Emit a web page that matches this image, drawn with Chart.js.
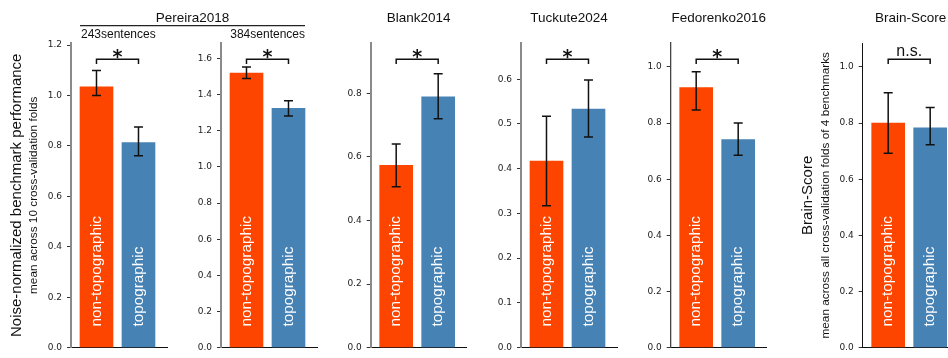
<!DOCTYPE html>
<html>
<head>
<meta charset="utf-8">
<script src="https://cdn.jsdelivr.net/npm/chart.js@4.4.1/dist/chart.umd.min.js"></script>
<style>
  html, body { margin: 0; padding: 0; background: #ffffff; }
  #stage { position: relative; width: 948px; height: 358px; overflow: hidden; background: #ffffff; }
  #stage canvas { position: absolute; left: 0; top: 0; }
</style>
</head>
<body>
<div id="stage"></div>
<script>
// Model variants compared on every benchmark
const categories = ['non-topographic', 'topographic'];

// One panel per benchmark (the first two are the two Pereira2018 subsets)
const benchmarks = ['Pereira2018', 'Pereira2018', 'Blank2014', 'Tuckute2024', 'Fedorenko2016', 'Brain-Score'];
const subsets = ['243sentences', '384sentences', '', '', '', ''];

// Mean score across cross-validation folds
const meanNonTopo = [1.034, 1.519, 0.573, 0.417, 0.926, 0.800];
const meanTopo    = [0.813, 1.324, 0.789, 0.533, 0.741, 0.783];

// Error bar extents
const lowNonTopo  = [1.000, 1.490, 0.506, 0.317, 0.846, 0.692];
const highNonTopo = [1.099, 1.553, 0.640, 0.517, 0.983, 0.908];
const lowTopo     = [0.761, 1.282, 0.720, 0.471, 0.685, 0.723];
const highTopo    = [0.875, 1.366, 0.861, 0.598, 0.800, 0.855];

// Significance marker above each pair of bars
const significance = ['*', '*', '*', '*', '*', 'n.s.'];

// Value axis range and tick spacing per panel
const yMax  = [1.208, 1.686, 0.958, 0.681, 1.085, 1.085];
const yStep = [0.2, 0.2, 0.2, 0.1, 0.2, 0.2];

// Axis titles (main line, smaller second line)
const yTitleMain = ['Noise-normalized benchmark performance', '', '', '', '', 'Brain-Score'];
const yTitleSub  = ['mean across 10 cross-validation folds', '', '', '', '', 'mean across all cross-validation folds of 4 benchmarks'];

// ---- layout and style ----
const CW = 980, CH = 358;
const AXW = 30;                 // reserved width for the value axis
const PLOT_W = 96;              // width of each plot area
const spineX = [71, 221, 370.7, 521, 670.7, 862.7];
const spineStyle = [
  { color: '#8a8a8a', width: 2 }, { color: '#8a8a8a', width: 2 },
  { color: '#8a8a8a', width: 2 }, { color: '#8a8a8a', width: 2 },
  { color: '#444444', width: 1.3 }, { color: '#111111', width: 1 }
];
const barColors = ['#fd4500', '#4682b4'];
const SANS = '"Liberation Sans", Arial, sans-serif';
const TICKFONT = '"DejaVu Sans", sans-serif';
const INK = '#111111';

const stage = document.getElementById('stage');
const charts = [];

function barsOf(chart) {
  return chart.getDatasetMeta(0).data;
}

// error bars, bracket with significance marker, labels inside bars
const annotate = {
  id: 'annotate',
  afterDatasetsDraw(chart) {
    const i = chart.options.panelIndex;
    const ctx = chart.ctx;
    const ys = chart.scales.y;
    const area = chart.chartArea;
    const bars = barsOf(chart);
    const lows = [lowNonTopo[i], lowTopo[i]];
    const highs = [highNonTopo[i], highTopo[i]];

    ctx.save();
    // labels inside bars
    ctx.fillStyle = '#ffffff';
    ctx.font = '15.3px ' + SANS;
    ctx.textAlign = 'left';
    ctx.textBaseline = 'middle';
    bars.forEach((b, k) => {
      ctx.save();
      ctx.translate(b.x, area.bottom - 21);
      ctx.rotate(-Math.PI / 2);
      ctx.fillText(categories[k], 0, 0);
      ctx.restore();
    });

    // error bars
    ctx.strokeStyle = INK;
    ctx.lineWidth = 1.5;
    bars.forEach((b, k) => {
      const yH = ys.getPixelForValue(highs[k]);
      const yL = ys.getPixelForValue(lows[k]);
      ctx.beginPath();
      ctx.moveTo(b.x, yH); ctx.lineTo(b.x, yL);
      ctx.moveTo(b.x - 4.5, yH); ctx.lineTo(b.x + 4.5, yH);
      ctx.moveTo(b.x - 4.5, yL); ctx.lineTo(b.x + 4.5, yL);
      ctx.stroke();
    });

    // bracket
    const x0 = bars[0].x, x1 = bars[1].x;
    const yTop = area.top + 16.3, yLeg = area.top + 21;
    ctx.beginPath();
    ctx.moveTo(x0, yLeg); ctx.lineTo(x0, yTop); ctx.lineTo(x1, yTop); ctx.lineTo(x1, yLeg);
    ctx.stroke();
    ctx.fillStyle = INK;
    ctx.textAlign = 'center';
    ctx.textBaseline = 'alphabetic';
    const mark = significance[i];
    if (mark === '*') {
      ctx.font = 'bold 19px ' + TICKFONT;
      ctx.fillText(mark, (x0 + x1) / 2, area.top + 19.5);
    } else {
      ctx.font = '16px ' + SANS;
      ctx.fillText(mark, (x0 + x1) / 2, area.top + 12.7);
    }
    ctx.restore();
  },
  afterDraw(chart) {
    const i = chart.options.panelIndex;
    const ctx = chart.ctx;
    const area = chart.chartArea;
    const midY = (area.top + area.bottom) / 2;
    ctx.save();
    ctx.fillStyle = INK;
    ctx.textBaseline = 'alphabetic';

    // axis titles
    if (yTitleMain[i]) {
      ctx.save();
      ctx.translate(area.left - 50.5, midY);
      ctx.rotate(-Math.PI / 2);
      ctx.textAlign = 'center';
      ctx.font = '15px ' + SANS;
      ctx.fillText(yTitleMain[i], 0, 0);
      ctx.restore();
      ctx.save();
      ctx.translate(area.left - 34, midY);
      ctx.rotate(-Math.PI / 2);
      ctx.textAlign = 'center';
      ctx.font = '11.8px ' + SANS;
      ctx.fillText(yTitleSub[i], 0, 0);
      ctx.restore();
    }

    // benchmark titles
    ctx.font = '13.5px ' + SANS;
    ctx.textAlign = 'center';
    if (i >= 2) {
      ctx.fillText(benchmarks[i], (area.left + area.right) / 2, 21.5);
    } else if (i === 1 && charts[0]) {
      // shared header for the two subsets of the same benchmark
      const leftBar = barsOf(charts[0])[0];
      const rightBar = barsOf(chart)[1];
      const lx = leftBar.x - leftBar.width / 2;
      const rx = rightBar.x + rightBar.width / 2;
      ctx.fillText(benchmarks[i], (lx + rx) / 2, 21.5);
      ctx.strokeStyle = '#222222';
      ctx.lineWidth = 1.3;
      ctx.beginPath();
      ctx.moveTo(lx, 25.7); ctx.lineTo(rx, 25.7);
      ctx.stroke();
      ctx.font = '12px ' + SANS;
      ctx.textAlign = 'left';
      ctx.fillText(subsets[0], lx + 1, 38);
      ctx.textAlign = 'right';
      ctx.fillText(subsets[1], rx, 38);
    }
    ctx.restore();
  }
};

function makePanel(i) {
  const canvas = document.createElement('canvas');
  canvas.width = CW; canvas.height = CH;
  canvas.style.width = CW + 'px'; canvas.style.height = CH + 'px';
  stage.appendChild(canvas);

  const values = [meanNonTopo[i], meanTopo[i]];
  const chart = new Chart(canvas, {
    type: 'bar',
    data: {
      datasets: [{
        data: values.map((v, k) => ({ x: k, y: v })),
        backgroundColor: barColors,
        borderWidth: 0,
        barThickness: 33
      }]
    },
    options: {
      panelIndex: i,
      responsive: false,
      animation: false,
      devicePixelRatio: 1,
      layout: {
        padding: {
          left: spineX[i] - AXW,
          right: CW - (spineX[i] + PLOT_W),
          top: 43,
          bottom: 4
        }
      },
      plugins: { legend: { display: false }, tooltip: { enabled: false }, title: { display: false } },
      scales: {
        x: {
          type: 'linear',
          min: -0.607,
          max: 1.679,
          offset: false,
          grid: { display: false },
          ticks: { display: false },
          border: { display: true, color: INK, width: 1 },
          afterFit: s => { s.height = 0; }
        },
        y: {
          type: 'linear',
          position: 'left',
          min: 0,
          max: yMax[i],
          afterFit: s => { s.width = AXW; },
          ticks: {
            stepSize: yStep[i],
            includeBounds: false,
            callback: v => Number(v).toFixed(1),
            font: { family: TICKFONT, size: 9 },
            color: '#222222',
            padding: 5
          },
          grid: { display: true, drawOnChartArea: false, drawTicks: true, tickLength: 4, color: '#333333', lineWidth: 1 },
          border: { display: true, color: spineStyle[i].color, width: spineStyle[i].width }
        }
      }
    },
    plugins: [annotate]
  });
  charts.push(chart);
}

for (let i = 0; i < benchmarks.length; i++) makePanel(i);
</script>
</body>
</html>
